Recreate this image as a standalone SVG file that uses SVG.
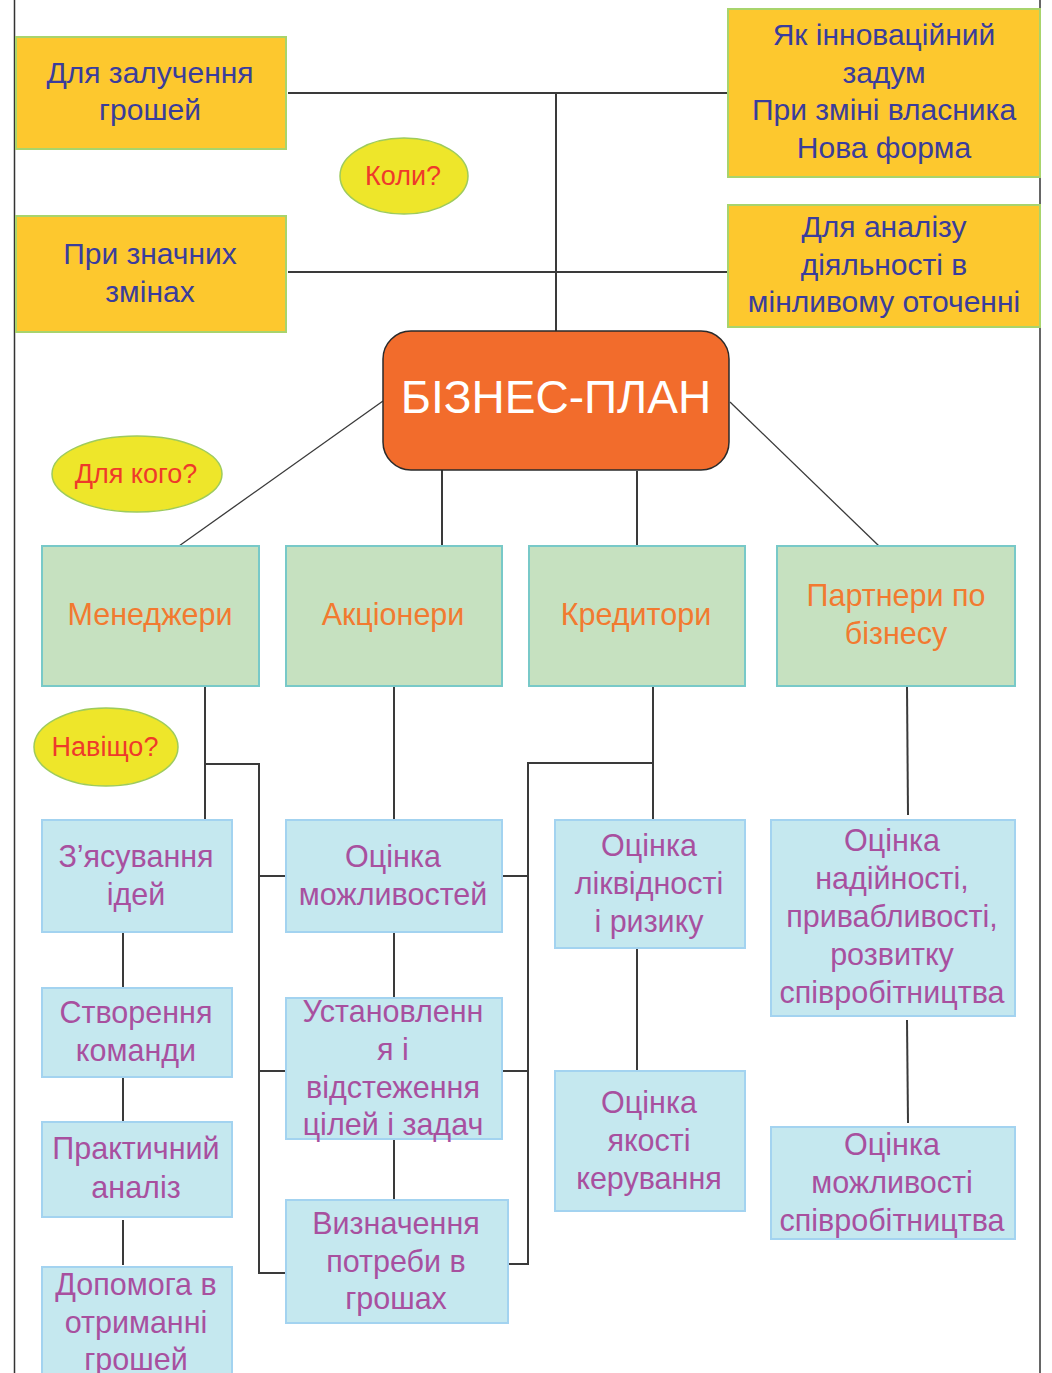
<svg xmlns="http://www.w3.org/2000/svg" width="1052" height="1373" viewBox="0 0 1052 1373">
<style>
text{font-family:"Liberation Sans",Arial,sans-serif;text-anchor:middle}
.yb{fill:#FDC82E;stroke:#A8D46C;stroke-width:2}
.yt{fill:#3A3D9C;font-size:30px}
.el{fill:#EEE62A;stroke:#9ECB5C;stroke-width:1.5}
.et{fill:#EE3A2A;font-size:27px}
.gb{fill:#C6E1C0;stroke:#78C9C8;stroke-width:2}
.gt{fill:#F27A30;font-size:30.5px}
.bb{fill:#C5E8EF;stroke:#A3D3F0;stroke-width:2}
.bt{fill:#A8509F;font-size:30.5px}
.cn line,.cn polyline{stroke:#3a3a3a;stroke-width:2;fill:none}
</style>
<rect width="1052" height="1373" fill="#fff"/>
<g id="page-border" stroke="#333" stroke-width="1.5">
<line x1="14.5" y1="0" x2="14.5" y2="1373"/>
<line x1="1040" y1="0" x2="1040" y2="1373"/>
</g>
<g class="cn" id="connectors">
<line x1="288" y1="93" x2="728" y2="93"/>
<line x1="288" y1="272" x2="728" y2="272"/>
<line x1="556" y1="93" x2="556" y2="331"/>
<line x1="383" y1="401" x2="179" y2="546" style="stroke-width:1.3"/>
<line x1="730" y1="402" x2="879" y2="546" style="stroke-width:1.3"/>
<line x1="442" y1="468" x2="442" y2="549"/>
<line x1="637" y1="471" x2="637" y2="549"/>
<line x1="205" y1="686" x2="205" y2="820"/>
<polyline points="205,764 259,764 259,1273 288,1273"/>
<line x1="259" y1="876" x2="288" y2="876"/>
<line x1="259" y1="1071" x2="288" y2="1071"/>
<line x1="394" y1="686" x2="394" y2="823"/>
<line x1="394" y1="930" x2="394" y2="998"/>
<line x1="394" y1="1139" x2="394" y2="1203"/>
<line x1="653" y1="683" x2="653" y2="820"/>
<polyline points="653,763 528,763 528,1264 508,1264"/>
<line x1="502" y1="876" x2="528" y2="876"/>
<line x1="502" y1="1071" x2="528" y2="1071"/>
<line x1="637" y1="948" x2="637" y2="1075"/>
<line x1="907" y1="686" x2="908" y2="815"/>
<line x1="907" y1="1020" x2="908" y2="1123"/>
<line x1="123" y1="933" x2="123" y2="990"/>
<line x1="123" y1="1077" x2="123" y2="1127"/>
<line x1="123" y1="1220" x2="123" y2="1265"/>
</g>
<g id="n-zaluchennia"><rect class="yb" x="16" y="37" width="270" height="112"/>
<text class="yt" x="150" y="83">Для залучення</text><text class="yt" x="150" y="120">грошей</text></g>
<g id="n-innov"><rect class="yb" x="728" y="9" width="312" height="168"/>
<text class="yt" x="884" y="45">Як інноваційний</text><text class="yt" x="884" y="83">задум</text><text class="yt" x="884" y="120">При зміні власника</text><text class="yt" x="884" y="158">Нова форма</text></g>
<g id="n-zminy"><rect class="yb" x="16" y="216" width="270" height="116"/>
<text class="yt" x="150" y="264">При значних</text><text class="yt" x="150" y="302">змінах</text></g>
<g id="n-analiz"><rect class="yb" x="728" y="205" width="312" height="122"/>
<text class="yt" x="884" y="237">Для аналізу</text><text class="yt" x="884" y="275">діяльності в</text><text class="yt" x="884" y="312">мінливому оточенні</text></g>
<g id="q-koly"><ellipse class="el" cx="404" cy="176" rx="64" ry="38"/><text class="et" x="403" y="185">Коли?</text></g>
<g id="n-biznes-plan"><rect x="383" y="331" width="346" height="139" rx="28" fill="#F26C2C" stroke="#2a2a2a" stroke-width="1.5"/>
<text x="556" y="413" fill="#fff" style="font-size:46px">БІЗНЕС-ПЛАН</text></g>
<g id="q-dlia-koho"><ellipse class="el" cx="137" cy="474" rx="85" ry="38"/><text class="et" x="136" y="483">Для кого?</text></g>
<g id="n-menedzhery"><rect class="gb" x="42" y="546" width="217" height="140"/><text class="gt" x="150" y="625">Менеджери</text></g>
<g id="n-aktsionery"><rect class="gb" x="286" y="546" width="216" height="140"/><text class="gt" x="393" y="625">Акціонери</text></g>
<g id="n-kredytory"><rect class="gb" x="529" y="546" width="216" height="140"/><text class="gt" x="636" y="625">Кредитори</text></g>
<g id="n-partnery"><rect class="gb" x="777" y="546" width="238" height="140"/><text class="gt" x="896" y="606">Партнери по</text><text class="gt" x="896" y="644">бізнесу</text></g>
<g id="q-navishcho"><ellipse class="el" cx="106" cy="747" rx="72" ry="39"/><text class="et" x="105" y="756">Навіщо?</text></g>
<g id="n-idei"><rect class="bb" x="42" y="820" width="190" height="112"/><text class="bt" x="136" y="867">З’ясування</text><text class="bt" x="136" y="905">ідей</text></g>
<g id="n-komanda"><rect class="bb" x="42" y="988" width="190" height="89"/><text class="bt" x="136" y="1023">Створення</text><text class="bt" x="136" y="1061">команди</text></g>
<g id="n-praktychnyi"><rect class="bb" x="42" y="1122" width="190" height="95"/><text class="bt" x="136" y="1159">Практичний</text><text class="bt" x="136" y="1198">аналіз</text></g>
<g id="n-dopomoha"><rect class="bb" x="42" y="1267" width="190" height="120"/><text class="bt" x="136" y="1295">Допомога в</text><text class="bt" x="136" y="1333">отриманні</text><text class="bt" x="136" y="1370">грошей</text></g>
<g id="n-mozhlyvosti"><rect class="bb" x="286" y="820" width="216" height="112"/><text class="bt" x="393" y="867">Оцінка</text><text class="bt" x="393" y="905">можливостей</text></g>
<g id="n-tsili"><rect class="bb" x="286" y="998" width="216" height="141"/><text class="bt" x="393" y="1022">Установленн</text><text class="bt" x="393" y="1060">я і</text><text class="bt" x="393" y="1098">відстеження</text><text class="bt" x="393" y="1135">цілей і задач</text></g>
<g id="n-potreby"><rect class="bb" x="286" y="1200" width="222" height="123"/><text class="bt" x="396" y="1234">Визначення</text><text class="bt" x="396" y="1272">потреби в</text><text class="bt" x="396" y="1309">грошах</text></g>
<g id="n-likvidnist"><rect class="bb" x="555" y="820" width="190" height="128"/><text class="bt" x="649" y="856">Оцінка</text><text class="bt" x="649" y="894">ліквідності</text><text class="bt" x="649" y="932">і ризику</text></g>
<g id="n-yakist"><rect class="bb" x="555" y="1071" width="190" height="140"/><text class="bt" x="649" y="1113">Оцінка</text><text class="bt" x="649" y="1151">якості</text><text class="bt" x="649" y="1189">керування</text></g>
<g id="n-nadiinist"><rect class="bb" x="771" y="820" width="244" height="196"/><text class="bt" x="892" y="851">Оцінка</text><text class="bt" x="892" y="889">надійності,</text><text class="bt" x="892" y="927">привабливості,</text><text class="bt" x="892" y="965">розвитку</text><text class="bt" x="892" y="1003">співробітництва</text></g>
<g id="n-spivrobitnytstvo"><rect class="bb" x="771" y="1127" width="244" height="112"/><text class="bt" x="892" y="1155">Оцінка</text><text class="bt" x="892" y="1193">можливості</text><text class="bt" x="892" y="1231">співробітництва</text></g>
</svg>
